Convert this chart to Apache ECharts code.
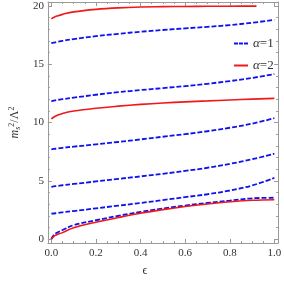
<!DOCTYPE html>
<html>
<head>
<meta charset="utf-8">
<script src="https://cdn.jsdelivr.net/npm/echarts@6/dist/echarts.min.js"></script>
<style>html,body{margin:0;padding:0;background:#fff}#c{width:284px;height:282px}</style>
</head>
<body>
<div id="c"></div>
<script>
// epsilon grid
var eps = [0, 0.01, 0.025, 0.05, 0.1, 0.2, 0.3, 0.4, 0.5, 0.6, 0.7, 0.8, 0.9, 1.0];
var epsTop = [0, 0.01, 0.025, 0.05, 0.1, 0.2, 0.3, 0.4, 0.5, 0.6, 0.7, 0.8, 0.9, 0.92];
// alpha = 2 (red, solid)
var red1 = [18.9, 19.0, 19.12, 19.27, 19.48, 19.7, 19.83, 19.9, 19.93, 19.95, 19.96, 19.97, 19.98, 19.98];
var red2 = [10.3, 10.45, 10.6, 10.78, 10.98, 11.22, 11.4, 11.55, 11.67, 11.77, 11.85, 11.93, 12.0, 12.07];
var red3 = [0, 0.22, 0.38, 0.56, 0.98, 1.45, 1.85, 2.22, 2.53, 2.8, 3.02, 3.2, 3.33, 3.38];
// alpha = 1 (blue, dashed)
var blue1 = [16.8, 16.85, 16.9, 17.0, 17.15, 17.4, 17.6, 17.78, 17.93, 18.07, 18.2, 18.35, 18.55, 18.8];
var blue2 = [11.82, 11.87, 11.93, 12.0, 12.13, 12.38, 12.6, 12.78, 12.95, 13.12, 13.32, 13.55, 13.82, 14.15];
var blue3 = [7.7, 7.73, 7.77, 7.83, 7.93, 8.13, 8.33, 8.55, 8.78, 9.0, 9.25, 9.55, 9.9, 10.37];
var blue4 = [4.49, 4.52, 4.56, 4.62, 4.73, 4.95, 5.17, 5.38, 5.6, 5.85, 6.12, 6.45, 6.85, 7.33];
var blue5 = [2.18, 2.2, 2.24, 2.3, 2.41, 2.64, 2.87, 3.1, 3.35, 3.6, 3.85, 4.17, 4.6, 5.25];
var blue6 = [0, 0.33, 0.55, 0.78, 1.2, 1.62, 2.0, 2.33, 2.62, 2.88, 3.1, 3.3, 3.5, 3.55];
// ticks
var xTicks = [0, 0.2, 0.4, 0.6, 0.8, 1.0];
var yTicks = [0, 5, 10, 15, 20];
var legendNames = ['α=1', 'α=2'];

var xMinor = [];
for (var i = 1; i < 20; i++) { if (i % 4) xMinor.push(i * 0.05); }
var yMinor = [];
for (var j = 1; j < 20; j++) { if (j % 5) yMinor.push(j); }

function pairs(xs, ys) { return xs.map(function (x, k) { return [x, ys[k]]; }); }

var FONT = '"Liberation Serif", "DejaVu Serif", serif';
var AX = '#9a9a9a';
var BLUE = '#1010f0';
var RED = '#f01818';

function xAx(pos, vals, len, showLabel, showLine) {
  return {
    type: 'value', position: pos, min: -0.0155, max: 1.017,
    axisLine: { show: showLine, onZero: false, lineStyle: { color: AX, width: 1 } },
    axisTick: { show: true, inside: true, length: len, customValues: vals, lineStyle: { color: AX } },
    axisLabel: { show: showLabel, customValues: vals, margin: 5, color: '#333', fontFamily: FONT, fontSize: 11,
      formatter: function (v) { return v.toFixed(1); } },
    splitLine: { show: false }
  };
}
function yAx(pos, vals, len, showLabel, showLine) {
  return {
    type: 'value', position: pos, min: -0.33, max: 20.33,
    axisLine: { show: showLine, onZero: false, lineStyle: { color: AX, width: 1 } },
    axisTick: { show: true, inside: true, length: len, customValues: vals, lineStyle: { color: AX } },
    axisLabel: { show: showLabel, customValues: vals, margin: 4, color: '#333', fontFamily: FONT, fontSize: 11 },
    splitLine: { show: false }
  };
}

var xAxes = [xAx('bottom', xTicks, 4, true, true), xAx('bottom', xMinor, 2, false, false),
             xAx('top', xTicks, 4, false, true), xAx('top', xMinor, 2, false, false)];
var yAxes = [yAx('left', yTicks, 4, true, true), yAx('left', yMinor, 2, false, false),
             yAx('right', yTicks, 4, false, true), yAx('right', yMinor, 2, false, false)];

xAxes[0].name = 'ϵ';
xAxes[0].nameLocation = 'middle';
xAxes[0].nameGap = 22;
xAxes[0].nameTextStyle = { fontFamily: FONT, fontSize: 12, color: '#333', padding: [0, 36, 0, 0] };

yAxes[0].name = '{m|m}{s|s}{p|2}{t|/Λ}{p|2}';
yAxes[0].nameLocation = 'middle';
yAxes[0].nameRotate = 90;
yAxes[0].nameGap = 19;
yAxes[0].nameTextStyle = {
  fontFamily: FONT, color: '#333',
  rich: {
    m: { fontFamily: FONT, fontSize: 12, fontStyle: 'italic', color: '#333' },
    s: { fontFamily: FONT, fontSize: 8, fontStyle: 'italic', color: '#333', verticalAlign: 'bottom', padding: [4, 0, 0, 0] },
    p: { fontFamily: FONT, fontSize: 8, color: '#333', verticalAlign: 'top', padding: [0, 0, 6, 0] },
    t: { fontFamily: FONT, fontSize: 12, color: '#333' }
  }
};

function line(name, xs, ys, dashed) {
  return {
    name: name, type: 'line', smooth: 0.4, showSymbol: false, symbol: 'none',
    xAxisIndex: 0, yAxisIndex: 0,
    data: pairs(xs, ys),
    lineStyle: dashed ? { color: BLUE, width: 1.8, type: [5, 2] } : { color: RED, width: 1.6 },
    itemStyle: { color: dashed ? BLUE : RED },
    emphasis: { disabled: true }, animation: false
  };
}

var series = [
  line(legendNames[0], eps, blue1, true), line(legendNames[0], eps, blue2, true), line(legendNames[0], eps, blue3, true),
  line(legendNames[0], eps, blue4, true), line(legendNames[0], eps, blue5, true), line(legendNames[0], eps, blue6, true),
  line(legendNames[1], epsTop, red1, false), line(legendNames[1], eps, red2, false), line(legendNames[1], eps, red3, false)
];

var chart = echarts.init(document.getElementById('c'), null, { renderer: 'canvas' });
chart.setOption({
  animation: false,
  backgroundColor: '#fff',
  grid: { left: 34, right: 4, top: 2, bottom: 33, containLabel: false },
  xAxis: xAxes,
  yAxis: yAxes,
  legend: {
    show: true,
    data: [
      { name: legendNames[0], icon: 'path://M0,0h4v2h-4z M5,0h4v2h-4z M10,0h4v2h-4z' },
      { name: legendNames[1], icon: 'path://M0,0h14v2h-14z' }
    ],
    orient: 'vertical', left: 229, top: 31,
    itemWidth: 14, itemHeight: 2, itemGap: 7,
    formatter: function (n) { return '{a|α}' + n.slice(1); },
    textStyle: { fontFamily: FONT, fontSize: 13, color: '#333', lineHeight: 15,
      rich: { a: { fontFamily: FONT, fontSize: 13, fontStyle: 'italic', color: '#333', lineHeight: 15 } } }
  },
  series: series
});
</script>
</body>
</html>
